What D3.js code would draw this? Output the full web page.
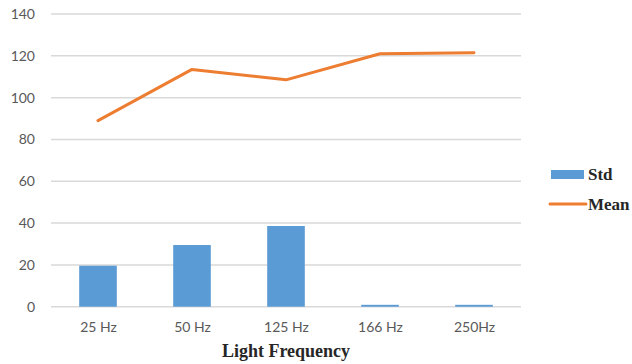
<!DOCTYPE html>
<html>
<head>
<meta charset="utf-8">
<script src="https://cdn.jsdelivr.net/npm/d3@7"></script>
<style>
  html, body { margin: 0; padding: 0; background: #fff; }
  svg { display: block; }
</style>
</head>
<body>
<svg id="chart" width="632" height="364"></svg>
<script>
// Frequencies and measured values
const categories = ["25 Hz", "50 Hz", "125 Hz", "166 Hz", "250Hz"];
const stdValues = [19.6, 29.5, 38.6, 0.9, 0.9];
const meanValues = [89, 113.5, 108.5, 121, 121.5];
const yTicks = [0, 20, 40, 60, 80, 100, 120, 140];

const svg = d3.select("#chart");
const plot = { left: 51, right: 521, top: 14, bottom: 306.7 };

const x = d3.scaleBand().domain(categories).range([plot.left, plot.right]).paddingInner(0.6).paddingOuter(0.3);
const xc = d3.scalePoint().domain(categories).range([plot.left, plot.right]).padding(0.5);
const y = d3.scaleLinear().domain([0, 140]).range([plot.bottom, plot.top]);

const tickFont = "Lato, 'Open Sans', sans-serif";
const serif = "'Liberation Serif', 'DejaVu Serif', serif";

// Horizontal gridlines
svg.append("g")
  .selectAll("line")
  .data(yTicks)
  .join("line")
  .attr("x1", plot.left).attr("x2", plot.right)
  .attr("y1", d => y(d)).attr("y2", d => y(d))
  .attr("stroke", "#d9d9d9").attr("stroke-width", 1.5);

// Y axis labels
const yAxis = svg.append("g")
  .attr("transform", `translate(${plot.left},0)`)
  .call(d3.axisLeft(y).tickValues(yTicks).tickSize(0).tickPadding(16));
yAxis.select(".domain").remove();
yAxis.selectAll("text").attr("font-family", tickFont).attr("font-size", 14).attr("fill", "#595959");

// Std bars
svg.append("g")
  .selectAll("rect")
  .data(categories)
  .join("rect")
  .attr("x", d => x(d))
  .attr("width", x.bandwidth())
  .attr("y", (d, i) => y(stdValues[i]))
  .attr("height", (d, i) => plot.bottom - y(stdValues[i]))
  .attr("fill", "#5b9bd5");

// X axis labels
const xAxis = svg.append("g")
  .attr("transform", `translate(0,${plot.bottom})`)
  .call(d3.axisBottom(xc).tickSize(0).tickPadding(15));
xAxis.select(".domain").remove();
xAxis.selectAll("text").attr("font-family", tickFont).attr("font-size", 14).attr("fill", "#595959");

// Mean line
const line = d3.line().x(d => xc(d.c)).y(d => y(d.v));
svg.append("path")
  .datum(categories.map((c, i) => ({ c, v: meanValues[i] })))
  .attr("d", line)
  .attr("fill", "none")
  .attr("stroke", "#ed7d31")
  .attr("stroke-width", 3)
  .attr("stroke-linecap", "round")
  .attr("stroke-linejoin", "round");

// Axis title
svg.append("text")
  .attr("x", (plot.left + plot.right) / 2)
  .attr("y", 357)
  .attr("text-anchor", "middle")
  .attr("font-family", serif)
  .attr("font-weight", "bold")
  .attr("font-size", 18)
  .attr("fill", "#262626")
  .text("Light Frequency");

// Legend
const legend = svg.append("g");
legend.append("rect").attr("x", 551).attr("y", 170).attr("width", 33).attr("height", 9).attr("fill", "#5b9bd5");
legend.append("text").attr("x", 588).attr("y", 180)
  .attr("font-family", serif).attr("font-weight", "bold").attr("font-size", 17).attr("fill", "#262626").text("Std");
legend.append("line").attr("x1", 550).attr("x2", 586).attr("y1", 204).attr("y2", 204)
  .attr("stroke", "#ed7d31").attr("stroke-width", 3).attr("stroke-linecap", "round");
legend.append("text").attr("x", 588).attr("y", 210)
  .attr("font-family", serif).attr("font-weight", "bold").attr("font-size", 17).attr("fill", "#262626").text("Mean");
</script>
</body>
</html>
